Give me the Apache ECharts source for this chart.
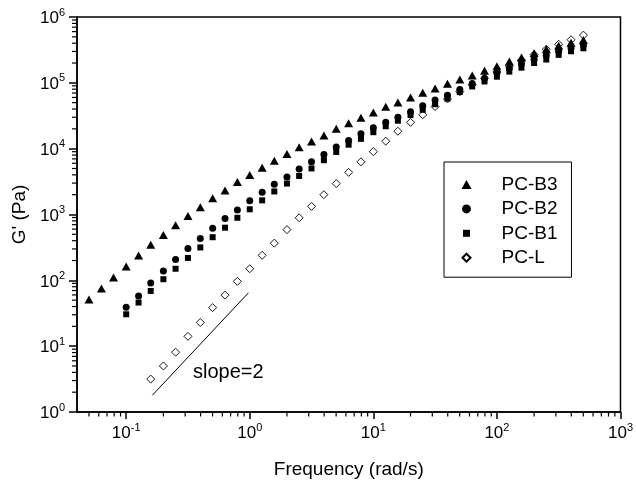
<!DOCTYPE html>
<html><head><meta charset="utf-8">
<script src="https://cdn.jsdelivr.net/npm/echarts@6/dist/echarts.min.js"></script>
<style>html,body{margin:0;padding:0;background:#fff}#c{width:636px;height:484px}</style>
</head><body><div id="c"></div><script>
// ---- data (frequency in rad/s, G' in Pa) ----
const freqB3 = [0.05,0.063,0.079,0.1,0.126,0.158,0.2,0.251,0.316,0.398,0.501,0.631,0.794,1,1.26,1.58,2,2.51,3.16,3.98,5.01,6.31,7.94,10,12.6,15.8,20,25.1,31.6,39.8,50.1,63.1,79.4,100,126,158,200,251,316,398,501];
const gB3 = [51,75,110,162,238,347,490,684,946,1290,1760,2320,3130,3980,5130,6550,8320,10500,12900,15800,20000,24300,29500,35500,43200,50100,59700,70800,82200,96800,112000,129000,153000,178000,211000,243000,282000,324000,367000,407000,447000];

const freqB = [0.1,0.126,0.158,0.2,0.251,0.316,0.398,0.501,0.631,0.794,1,1.26,1.58,2,2.51,3.16,3.98,5.01,6.31,7.94,10,12.6,15.8,20,25.1,31.6,39.8,50.1,63.1,79.4,100,126,158,200,251,316,398,501];
const gB2 = [39,58,91,138,207,305,432,617,871,1175,1620,2170,2880,3720,4900,6310,8130,10600,13300,16800,20700,25100,29900,36300,44700,55000,64600,79400,97700,117000,141000,166000,195000,229000,263000,302000,339000,376000];
const gB1 = [30.5,46,69,104,150,219,316,452,631,891,1200,1640,2240,2950,3850,5010,6680,8910,11500,14100,17800,21900,26600,32400,38900,47300,57500,72400,88100,105000,124000,148000,170000,200000,226000,266000,302000,335000];

const freqL = [0.158,0.2,0.251,0.316,0.398,0.501,0.631,0.794,1,1.26,1.58,2,2.51,3.16,3.98,5.01,6.31,7.94,10,12.6,15.8,20,25.1,31.6,39.8,50.1,63.1,79.4,100,126,158,200,251,316,398,501];
const gL = [3.16,5.0,8.1,14.1,22.9,38.5,59.6,96.6,150,240,367,589,891,1330,2000,2950,4370,6310,9020,13000,18400,25100,32700,43600,56900,73300,93300,117000,146000,180000,221000,269000,324000,385000,452000,531000];

// reference line "slope=2"
const slopeX = [0.163, 0.976];
const slopeY = [1.8, 64.6];
const slopeText = 'slope=2';

// axes
const xMin = 0.04, xMax = 1000, yMin = 1, yMax = 1e6;
const xMajor = [0.1, 1, 10, 100, 1000];
const yMajor = [1, 10, 100, 1000, 10000, 100000, 1000000];
const xDecades = [0.01, 0.1, 1, 10, 100];
const yDecades = [1, 10, 100, 1000, 10000, 100000];
const minorMult = [2,3,4,5,6,7,8,9];

const xMinor = [], yMinor = [];
xDecades.forEach(d => minorMult.forEach(m => { const v = +(d*m).toPrecision(6); if (v > xMin && v < xMax) xMinor.push(v); }));
yDecades.forEach(d => minorMult.forEach(m => yMinor.push(+(d*m).toPrecision(6))));

const FONT = 'Liberation Sans, Arial, sans-serif';
const pair = (xs, ys) => xs.map((x, i) => [x, ys[i]]);

const supRich = {
  b: {fontSize: 17, lineHeight: 20, verticalAlign: 'bottom', fontFamily: FONT, color: '#000'},
  s: {fontSize: 11, lineHeight: 11, verticalAlign: 'top', fontFamily: FONT, color: '#000'}
};
const powFmt = v => '{b|10}{s|' + Math.round(Math.log10(v)) + '}';
const axisLineStyle = {color: '#000', width: 1.5};

const slopeLabel = {type: 'text', id: 'slopeLabel', left: 193, top: 362,
  style: {text: slopeText, fontSize: 20, fontFamily: FONT, fill: '#000'}};

const chart = echarts.init(document.getElementById('c'));
chart.setOption({
  animation: false,
  backgroundColor: '#fff',
  grid: {left: 77, top: 17, width: 546, height: 400, show: true, borderColor: '#000', borderWidth: 1.5},
  xAxis: {type: 'log', logBase: 10, min: xMin, max: xMax, position: 'bottom',
     name: 'Frequency (rad/s)', nameLocation: 'middle', nameGap: 48,
     nameTextStyle: {fontSize: 19, fontFamily: FONT, color: '#000'},
     axisLine: {show: true, onZero: false, lineStyle: axisLineStyle},
     axisTick: {show: true, inside: false, length: 7, customValues: xMajor, lineStyle: {color: '#000', width: 1.5}},
     axisLabel: {customValues: xMajor, formatter: powFmt, rich: supRich, margin: 10},
     splitLine: {show: false}},
  yAxis: {type: 'log', logBase: 10, min: yMin, max: yMax, position: 'left',
     name: "G' (Pa)", nameLocation: 'middle', nameGap: 45, nameRotate: 90,
     nameTextStyle: {fontSize: 19, fontFamily: FONT, color: '#000'},
     axisLine: {show: true, onZero: false, lineStyle: axisLineStyle},
     axisTick: {show: true, inside: false, length: 8, customValues: yMajor, lineStyle: {color: '#000', width: 1.5}},
     axisLabel: {customValues: yMajor, formatter: powFmt, rich: supRich, margin: 12},
     splitLine: {show: false}},
  legend: {
    data: [
      {name: 'PC-B3', icon: 'path://M0,0M11,11M0.5,10L5.5,1L10.5,10Z'},
      {name: 'PC-B2', icon: 'path://M0,0M11,11M1,5.5A4.5,4.5,0,1,1,10,5.5A4.5,4.5,0,1,1,1,5.5Z'},
      {name: 'PC-B1', icon: 'path://M0,0M11,11M2,2L9,2L9,9L2,9Z'},
      {name: 'PC-L', icon: 'path://M0,0M11,11M5.5,1.5L9.5,5.5L5.5,9.5L1.5,5.5Z'}
    ],
    orient: 'vertical', left: 444, top: 162,
    padding: [13, 14, 10, 16],
    itemWidth: 20, itemHeight: 11, itemGap: 5.4,
    borderColor: '#000', borderWidth: 1, backgroundColor: '#fff',
    selectedMode: false,
    textStyle: {fontSize: 19, lineHeight: 19, fontFamily: FONT, color: '#000', padding: [0, 0, 0, 20]}
  },
  graphic: [slopeLabel],
  series: [
    {name: 'PC-L', type: 'scatter', z: 1, data: pair(freqL, gL), symbol: 'diamond', symbolSize: 8,
     itemStyle: {color: 'rgba(255,255,255,0)', borderColor: '#000', borderWidth: 0.9, opacity: 1}},
    {name: 'PC-B1', type: 'scatter', z: 2, data: pair(freqB, gB1), symbol: 'rect', symbolSize: 6,
     itemStyle: {color: '#000', opacity: 1}},
    {name: 'PC-B2', type: 'scatter', z: 3, data: pair(freqB, gB2), symbol: 'circle', symbolSize: 7,
     itemStyle: {color: '#000', opacity: 1}},
    {name: 'PC-B3', type: 'scatter', z: 4, data: pair(freqB3, gB3), symbol: 'triangle', symbolSize: [9, 8],
     itemStyle: {color: '#000', opacity: 1}},
    {name: 'slope', type: 'line', data: pair(slopeX, slopeY), showSymbol: false, symbol: 'none',
     lineStyle: {color: '#000', width: 1}, silent: true}
  ]
});

// minor tick marks: positions come from the chart's own axis scales
try {
  const ticks = [];
  xMinor.forEach((v, i) => {
    const p = chart.convertToPixel({gridIndex: 0}, [v, yMin]);
    ticks.push({type: 'line', id: 'xm' + i, silent: true, z: 10,
      shape: {x1: p[0], y1: p[1], x2: p[0], y2: p[1] + 4.5},
      style: {stroke: '#000', lineWidth: 1.2}});
  });
  yMinor.forEach((v, i) => {
    const p = chart.convertToPixel({gridIndex: 0}, [xMin, v]);
    ticks.push({type: 'line', id: 'ym' + i, silent: true, z: 10,
      shape: {x1: p[0] - 5, y1: p[1], x2: p[0], y2: p[1]},
      style: {stroke: '#000', lineWidth: 1.2}});
  });
  chart.setOption({graphic: [slopeLabel].concat(ticks)});
} catch (e) { /* keep chart without minor ticks */ }
</script></body></html>
